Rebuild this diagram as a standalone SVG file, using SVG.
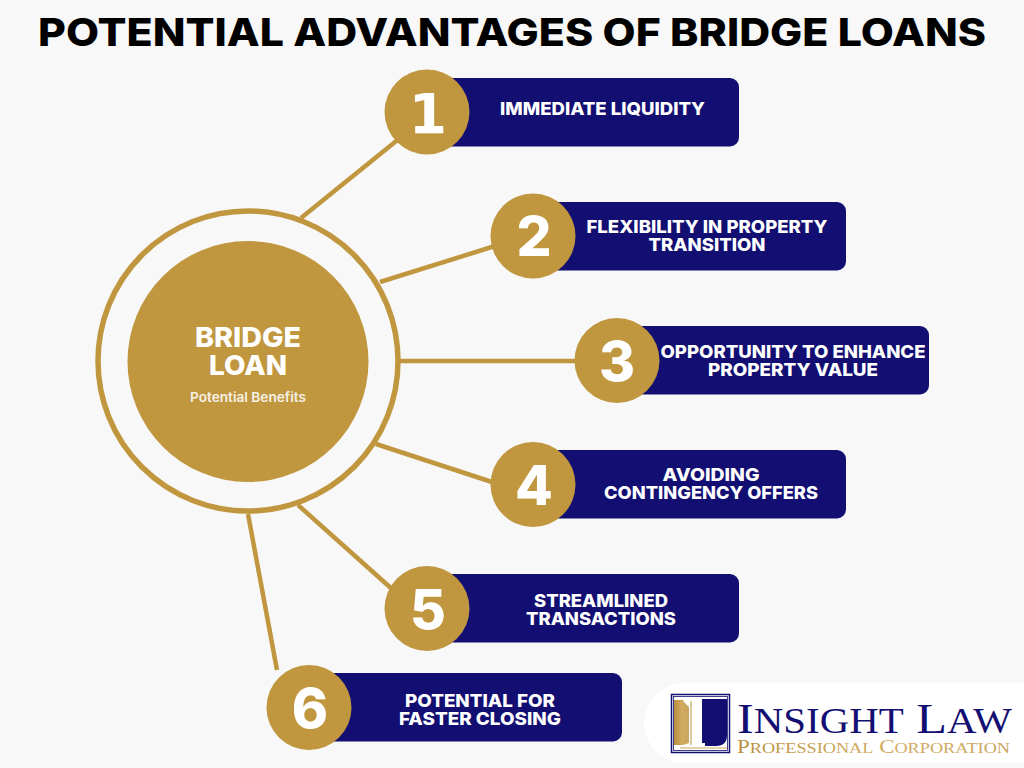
<svg xmlns="http://www.w3.org/2000/svg" width="1024" height="768" viewBox="0 0 1024 768">
<defs>
<linearGradient id="lg" x1="0" y1="0" x2="1" y2="0"><stop offset="0" stop-color="#b88f3c"/><stop offset="0.5" stop-color="#d2ab63"/><stop offset="1" stop-color="#c9a45c"/></linearGradient>
</defs>
<style>
text{font-family:"Inter","Open Sans","Liberation Sans",sans-serif;text-anchor:middle}
.title{font-size:38.5px;font-weight:800;fill:#000}
.gold{fill:#c0963e}
.bar{fill:#130f72}
.lab{font-size:17.6px;font-weight:800;fill:#fff}
.num{font-size:55px;font-weight:800;fill:#fff}
.conn line{stroke:#c0963e;stroke-width:4.5;fill:none}
.serif{font-family:"Liberation Serif",serif;text-anchor:start}
</style>
<rect width="1024" height="768" fill="#f8f8f8"/>
<text id="title" class="title" x="512" y="46" textLength="948" lengthAdjust="spacingAndGlyphs">POTENTIAL ADVANTAGES OF BRIDGE LOANS</text>
<g id="connectors" class="conn">
<line x1="301" y1="218" x2="400" y2="138"/>
<line x1="380" y1="282" x2="495" y2="246"/>
<line x1="400" y1="361" x2="578" y2="361"/>
<line x1="376" y1="444" x2="495" y2="483"/>
<line x1="298" y1="505" x2="392" y2="589"/>
<line x1="248" y1="514" x2="277" y2="670"/>
</g>
<g id="hub">
<circle cx="248" cy="361" r="150" fill="none" stroke="#c0963e" stroke-width="5.5"/>
<circle class="gold" cx="248" cy="361.5" r="120.5"/>
<text x="248" y="347" font-size="27.5" font-weight="800" fill="#fff" textLength="106" lengthAdjust="spacingAndGlyphs">BRIDGE</text>
<text x="248" y="374.500" font-size="27.5" font-weight="800" fill="#fff" textLength="78" lengthAdjust="spacingAndGlyphs">LOAN</text>
<text x="248" y="402" font-size="13" font-weight="600" fill="#f6f1e6" textLength="116" lengthAdjust="spacingAndGlyphs">Potential Benefits</text>
</g>
<g id="node1">
<rect class="bar" x="430" y="78" width="309" height="68.500" rx="9"/>
<circle class="gold" cx="427" cy="112" r="42.5"/>
<text class="num" x="428" y="133" style="font-family:'DejaVu Sans',sans-serif;font-weight:700">1</text>
<text class="lab" x="602.500" y="114.500" textLength="205" lengthAdjust="spacingAndGlyphs">IMMEDIATE LIQUIDITY</text>
</g>
<g id="node2">
<rect class="bar" x="537" y="202" width="309" height="68.500" rx="9"/>
<circle class="gold" cx="533" cy="236" r="42.5"/>
<text class="num" x="534" y="256">2</text>
<text class="lab" x="707" y="232.500" textLength="241" lengthAdjust="spacingAndGlyphs">FLEXIBILITY IN PROPERTY</text>
<text class="lab" x="707" y="250.500" textLength="117" lengthAdjust="spacingAndGlyphs">TRANSITION</text>
</g>
<g id="node3">
<rect class="bar" x="620" y="326" width="309" height="68.500" rx="9"/>
<circle class="gold" cx="617" cy="360.500" r="42.5"/>
<text class="num" x="617" y="381">3</text>
<text class="lab" x="793" y="358" textLength="265" lengthAdjust="spacingAndGlyphs">OPPORTUNITY TO ENHANCE</text>
<text class="lab" x="793" y="376" textLength="170" lengthAdjust="spacingAndGlyphs">PROPERTY VALUE</text>
</g>
<g id="node4">
<rect class="bar" x="537" y="450" width="309" height="68.500" rx="9"/>
<circle class="gold" cx="533" cy="484.500" r="42.5"/>
<text class="num" x="534" y="505">4</text>
<text class="lab" x="711" y="481" textLength="97" lengthAdjust="spacingAndGlyphs">AVOIDING</text>
<text class="lab" x="711" y="499" textLength="214" lengthAdjust="spacingAndGlyphs">CONTINGENCY OFFERS</text>
</g>
<g id="node5">
<rect class="bar" x="430" y="574" width="309" height="68.500" rx="9"/>
<circle class="gold" cx="427" cy="608.500" r="42.5"/>
<text class="num" x="428" y="629">5</text>
<text class="lab" x="601" y="607" textLength="134" lengthAdjust="spacingAndGlyphs">STREAMLINED</text>
<text class="lab" x="601" y="625" textLength="150" lengthAdjust="spacingAndGlyphs">TRANSACTIONS</text>
</g>
<g id="node6">
<rect class="bar" x="313" y="673" width="309" height="68.500" rx="9"/>
<circle class="gold" cx="309" cy="707.500" r="42.5"/>
<text class="num" x="310" y="728">6</text>
<text class="lab" x="480" y="707" textLength="150" lengthAdjust="spacingAndGlyphs">POTENTIAL FOR</text>
<text class="lab" x="480" y="725" textLength="162" lengthAdjust="spacingAndGlyphs">FASTER CLOSING</text>
</g>
<g id="logo">
<path d="M1024 683H684a40 40 0 0 0 0 80H1024Z" fill="#fff"/>
<rect x="671.500" y="694.500" width="58" height="58" fill="#fff" stroke="#130f72" stroke-width="1.500"/>
<rect x="673.500" y="696.500" width="54" height="54" fill="none" stroke="#130f72" stroke-width="0.800"/>
<path d="M674 700H683L690 706V745H674Z" fill="url(#lg)"/>
<path d="M702 699H727V735Q727 746 716 746H702Z" fill="#130f72"/>
<path d="M683 701H702V743H705V746H680L689 743V707Z" fill="#fff"/>
<path d="M691 701V745M680 748H727" stroke="#c9a45c" stroke-width="1.200" fill="none"/>
<text class="serif" x="737" y="732.500" font-size="43" fill="#130f72" textLength="275" lengthAdjust="spacingAndGlyphs">I<tspan font-size="35">NSIGHT</tspan> L<tspan font-size="35">AW</tspan></text>
<text class="serif" x="737" y="753" font-size="19.500" fill="url(#lg)" textLength="273" lengthAdjust="spacingAndGlyphs">P<tspan font-size="15.500">ROFESSIONAL</tspan> C<tspan font-size="15.500">ORPORATION</tspan></text>
</g>
</svg>
